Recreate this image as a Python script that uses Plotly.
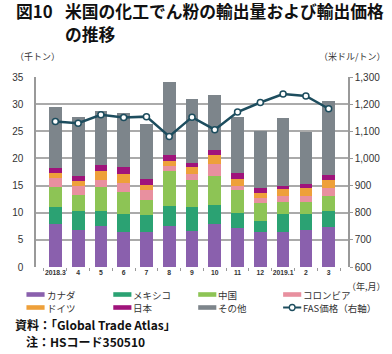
import plotly.graph_objects as go

months = ["2018.3", "4", "5", "6", "7", "8", "9", "10", "11", "12", "2019.1", "2", "3"]
canada   = [8.0, 6.9, 7.6, 6.4, 6.4, 7.5, 6.7, 7.9, 7.2, 6.4, 6.4, 6.8, 7.4]
mexico   = [3.0, 3.5, 2.8, 3.4, 3.2, 3.7, 4.3, 3.6, 2.7, 2.0, 3.4, 3.0, 2.9]
china    = [3.8, 2.9, 4.3, 4.0, 2.7, 6.5, 5.0, 5.3, 4.2, 3.3, 2.1, 2.1, 2.8]
colombia = [1.6, 1.7, 1.3, 1.7, 1.8, 0.9, 1.1, 2.2, 0.9, 1.0, 1.1, 1.2, 1.4]
germany  = [1.0, 0.9, 1.6, 1.7, 1.0, 1.0, 1.3, 1.7, 1.2, 0.9, 1.4, 1.5, 1.5]
japan    = [0.9, 0.9, 1.2, 1.3, 1.1, 1.1, 0.8, 0.8, 1.2, 0.9, 0.6, 0.75, 0.9]
others   = [11.2, 10.8, 10.0, 9.9, 10.2, 13.4, 11.8, 10.1, 10.2, 10.6, 12.4, 9.55, 13.7]
fas_price = [1136, 1130, 1161, 1151, 1154, 1081, 1152, 1106, 1171, 1206, 1237, 1230, 1183]

series_names = ["カナダ", "メキシコ", "中国", "コロンビア", "ドイツ", "日本", "その他"]
series_vals = [canada, mexico, china, colombia, germany, japan, others]
series_colors = ["#8a60ad", "#2ba273", "#8dc455", "#e8909f", "#eea03a", "#a0137b", "#7d858b"]
line_name = "FAS価格（右軸）"
line_color = "#1d4d5e"

FONT = "'Noto Sans CJK JP', Arial, sans-serif"
W, H = 392, 354
L, R, T, B = 23, 42, 77, 87
PW, PH = W - L - R, H - T - B

def px(x):
    return (x - L) / PW

def py(y):
    return (H - B - y) / PH

fig = go.Figure()
for name, vals, col in zip(series_names, series_vals, series_colors):
    fig.add_trace(go.Bar(x=months, y=vals, name=name, marker=dict(color=col, line=dict(width=0)),
                         showlegend=False))
fig.add_trace(go.Scatter(x=months, y=fas_price, name=line_name, yaxis="y2", mode="lines+markers",
                         line=dict(color=line_color, width=2.5),
                         marker=dict(symbol="circle", size=6, color="white",
                                     line=dict(color=line_color, width=1.5)),
                         showlegend=False))

annotations = []
shapes = []

def note(text, x, y, font, anchor="left"):
    annotations.append(dict(text=text, x=px(x), y=py(y), xref="paper", yref="paper",
                            xanchor=anchor, yanchor="middle", align=anchor, showarrow=False,
                            borderpad=0, font=font))

# Title
tfont = dict(family=FONT, size=16.8, color="#111111", weight="bold")
note("図10", 1, 11, tfont)
note("米国の化工でん粉の輸出量および輸出価格", 52, 11, tfont)
note("の推移", 52, 33.5, tfont)

# Axis unit labels
ufont = dict(family=FONT, size=9, color="#333333")
note("（千トン）", 0, 56, ufont)
note("（米ドル/トン）", 391, 56, ufont, "right")
note("（年,月）", 391, 286, ufont, "right")

# Manual legend
lfont = dict(family=FONT, size=9.5, color="#333333")
col_x = [13, 104, 193, 282]
row_y = [294.5, 307.5]
items = list(zip(series_names, series_colors)) + [(line_name, None)]
for i, (name, col) in enumerate(items):
    cx = col_x[i % 4]
    cy = row_y[i // 4]
    if col is not None:
        shapes.append(dict(type="rect", xref="paper", yref="paper",
                           x0=px(cx), x1=px(cx + 19), y0=py(cy - 2.3), y1=py(cy + 2.3),
                           fillcolor=col, line=dict(width=0)))
    else:
        shapes.append(dict(type="line", xref="paper", yref="paper",
                           x0=px(cx), x1=px(cx + 19), y0=py(cy), y1=py(cy),
                           line=dict(color=line_color, width=2)))
        shapes.append(dict(type="circle", xref="paper", yref="paper",
                           x0=px(cx + 6.5), x1=px(cx + 12.5), y0=py(cy - 3), y1=py(cy + 3),
                           fillcolor="white", line=dict(color=line_color, width=1.3)))
    note(name, cx + 20, cy, lfont)

# Footer
ffont = dict(family=FONT, size=12, color="#111111", weight="bold")
note("資料：「Global Trade Atlas」", 0, 324, ffont)
note("注：HSコード350510", 11, 341, ffont)

fig.update_layout(
    width=W, height=H,
    margin=dict(l=L, r=R, t=T, b=B, pad=0),
    barmode="stack", bargap=0.44,
    plot_bgcolor="white", paper_bgcolor="white",
    separators=".,",
    font=dict(family=FONT, size=10, color="#333333"),
    xaxis=dict(type="category", showgrid=False, showline=False, zeroline=False,
               ticks="outside", tickson="boundaries", ticklen=3, tickcolor="#999999",
               tickangle=0,
               tickfont=dict(family="Arial, sans-serif", size=6.8, color="#333333", weight="bold"),
               ),
    yaxis=dict(range=[0, 35], dtick=5, showgrid=True, gridcolor="#aaaaaa", gridwidth=1.5,
               showline=True, linecolor="#999999", linewidth=1.5, zeroline=False,
               ticks="outside", ticklen=9, tickcolor="rgba(0,0,0,0)",
               tickfont=dict(family="Arial, sans-serif", size=10, color="#333333")),
    yaxis2=dict(range=[600, 1300], dtick=100, overlaying="y", side="right", showgrid=False,
                showline=True, linecolor="#999999", linewidth=1.5, zeroline=False,
                ticks="outside", ticklen=3, tickcolor="#999999", tickformat=",d",
                tickfont=dict(family="Arial, sans-serif", size=10, color="#333333")),
    annotations=annotations,
    shapes=shapes,
)

fig.write_html("out.html")
